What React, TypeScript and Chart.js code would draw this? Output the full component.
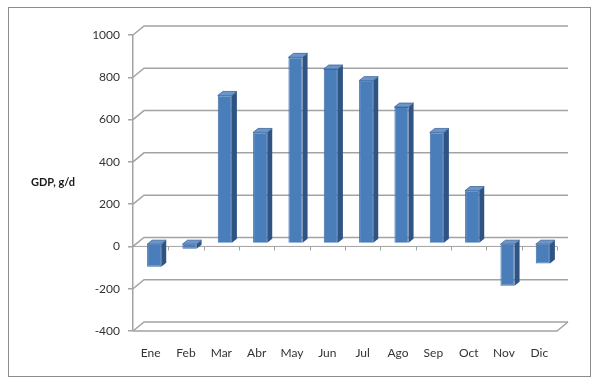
import React, { useEffect, useRef } from "react";
import { Chart, registerables } from "chart.js";

Chart.register(...registerables);

const months = ["Ene", "Feb", "Mar", "Abr", "May", "Jun", "Jul", "Ago", "Sep", "Oct", "Nov", "Dic"];
const gdpValues = [-110, -25, 700, 525, 880, 825, 770, 645, 525, 250, -200, -95];
const yTickValues = [-400, -200, 0, 200, 400, 600, 800, 1000];
const yTitle = "GDP, g/d";

const FONT = "Lato, 'Open Sans', sans-serif";
const GRID = "#a3a3a3";
const DX = 11;
const DY = -9;
const BDX = 5;
const BDY = -4;
const SHIFT_X = 3.5;
const SHIFT_Y = -3;

const wall3d = {
  id: "wall3d",
  beforeDatasetsDraw(chart: any) {
    const { ctx, chartArea } = chart;
    const { left, right, bottom } = chartArea;
    const y = chart.scales.y;
    ctx.save();
    ctx.strokeStyle = "#8c8c8c";
    ctx.lineWidth = 1;
    ctx.strokeRect(8.5, 7.5, 582, 369);

    ctx.strokeStyle = GRID;
    ctx.lineWidth = 1.5;
    yTickValues.forEach((v) => {
      const py = y.getPixelForValue(v);
      ctx.beginPath();
      ctx.moveTo(left, py);
      ctx.lineTo(left + DX, py + DY);
      ctx.lineTo(right + DX, py + DY);
      ctx.stroke();
    });
    // floor front edge
    ctx.beginPath();
    ctx.moveTo(left, bottom);
    ctx.lineTo(right, bottom);
    ctx.lineTo(right + DX, bottom + DY);
    ctx.stroke();
    // front zero line with category ticks
    const y0 = y.getPixelForValue(0);
    ctx.lineWidth = 1;
    ctx.beginPath();
    ctx.moveTo(left, y0);
    ctx.lineTo(right, y0);
    const n = months.length;
    for (let k = 1; k <= n; k++) {
      const bx = Math.round(left + ((right - left) * k) / n) + 0.5;
      ctx.moveTo(bx, y0);
      ctx.lineTo(bx, y0 + 4);
    }
    ctx.stroke();
    ctx.restore();

    ctx.save();
    ctx.translate(SHIFT_X, SHIFT_Y);
  },
  afterDatasetsDraw(chart: any) {
    const { ctx } = chart;
    const meta = chart.getDatasetMeta(0);
    meta.data.forEach((bar: any) => {
      const { x, y, base, width } = bar.getProps(["x", "y", "base", "width"], true);
      const l = x - width / 2;
      const r = x + width / 2;
      const t = Math.min(y, base);
      const b = Math.max(y, base);
      // side face
      ctx.fillStyle = "#2f5483";
      ctx.beginPath();
      ctx.moveTo(r, t);
      ctx.lineTo(r + BDX, t + BDY);
      ctx.lineTo(r + BDX, b + BDY);
      ctx.lineTo(r, b);
      ctx.closePath();
      ctx.fill();
      // top face
      ctx.fillStyle = "#6b96cc";
      ctx.beginPath();
      ctx.moveTo(l, t);
      ctx.lineTo(l + BDX, t + BDY);
      ctx.lineTo(r + BDX, t + BDY);
      ctx.lineTo(r, t);
      ctx.closePath();
      ctx.fill();
      ctx.strokeStyle = "#3c659a";
      ctx.lineWidth = 0.8;
      ctx.stroke();
    });
    ctx.restore();

    ctx.save();
    ctx.fillStyle = "#1a1a1a";
    ctx.font = `bold 11px ${FONT}`;
    ctx.textAlign = "center";
    ctx.textBaseline = "middle";
    ctx.fillText(yTitle, 53, 182);
    ctx.restore();
  },
};

export default function App() {
  const ref = useRef<HTMLCanvasElement | null>(null);
  useEffect(() => {
    if (!ref.current) return;
    const chart = new Chart(ref.current, {
      type: "bar",
      data: {
        labels: months,
        datasets: [
          {
            data: gdpValues,
            backgroundColor: "#4a7ebb",
            borderColor: "#3f6fa8",
            borderWidth: 1,
            barPercentage: 0.4,
            categoryPercentage: 1,
          },
        ],
      },
      options: {
        responsive: false,
        animation: false,
        devicePixelRatio: 1,
        layout: { padding: { left: 0, top: 35, right: 40, bottom: 0 } },
        plugins: { legend: { display: false }, tooltip: { enabled: false } },
        scales: {
          x: {
            grid: { display: false, drawTicks: false },
            border: { display: false },
            ticks: { padding: 15, color: "#333", font: { family: FONT, size: 12 }, maxRotation: 0 },
            afterFit: (s: any) => {
              s.height = 52;
            },
          },
          y: {
            min: -400,
            max: 1000,
            grid: { display: true, drawOnChartArea: false, drawTicks: true, tickLength: 5, color: GRID, lineWidth: 1.5 },
            border: { display: true, color: GRID, width: 1.5 },
            ticks: {
              stepSize: 200,
              padding: 8,
              color: "#333",
              font: { family: FONT, size: 12 },
              callback: (v: any) => String(v),
            },
            afterFit: (s: any) => {
              s.width = 133;
            },
          },
        },
      },
      plugins: [wall3d],
    });
    return () => chart.destroy();
  }, []);
  return (
    <div style={{ position: "fixed", left: 0, top: 0, width: 597, height: 383, background: "#fff" }}>
      <canvas ref={ref} width={597} height={383} style={{ display: "block" }} />
    </div>
  );
}
